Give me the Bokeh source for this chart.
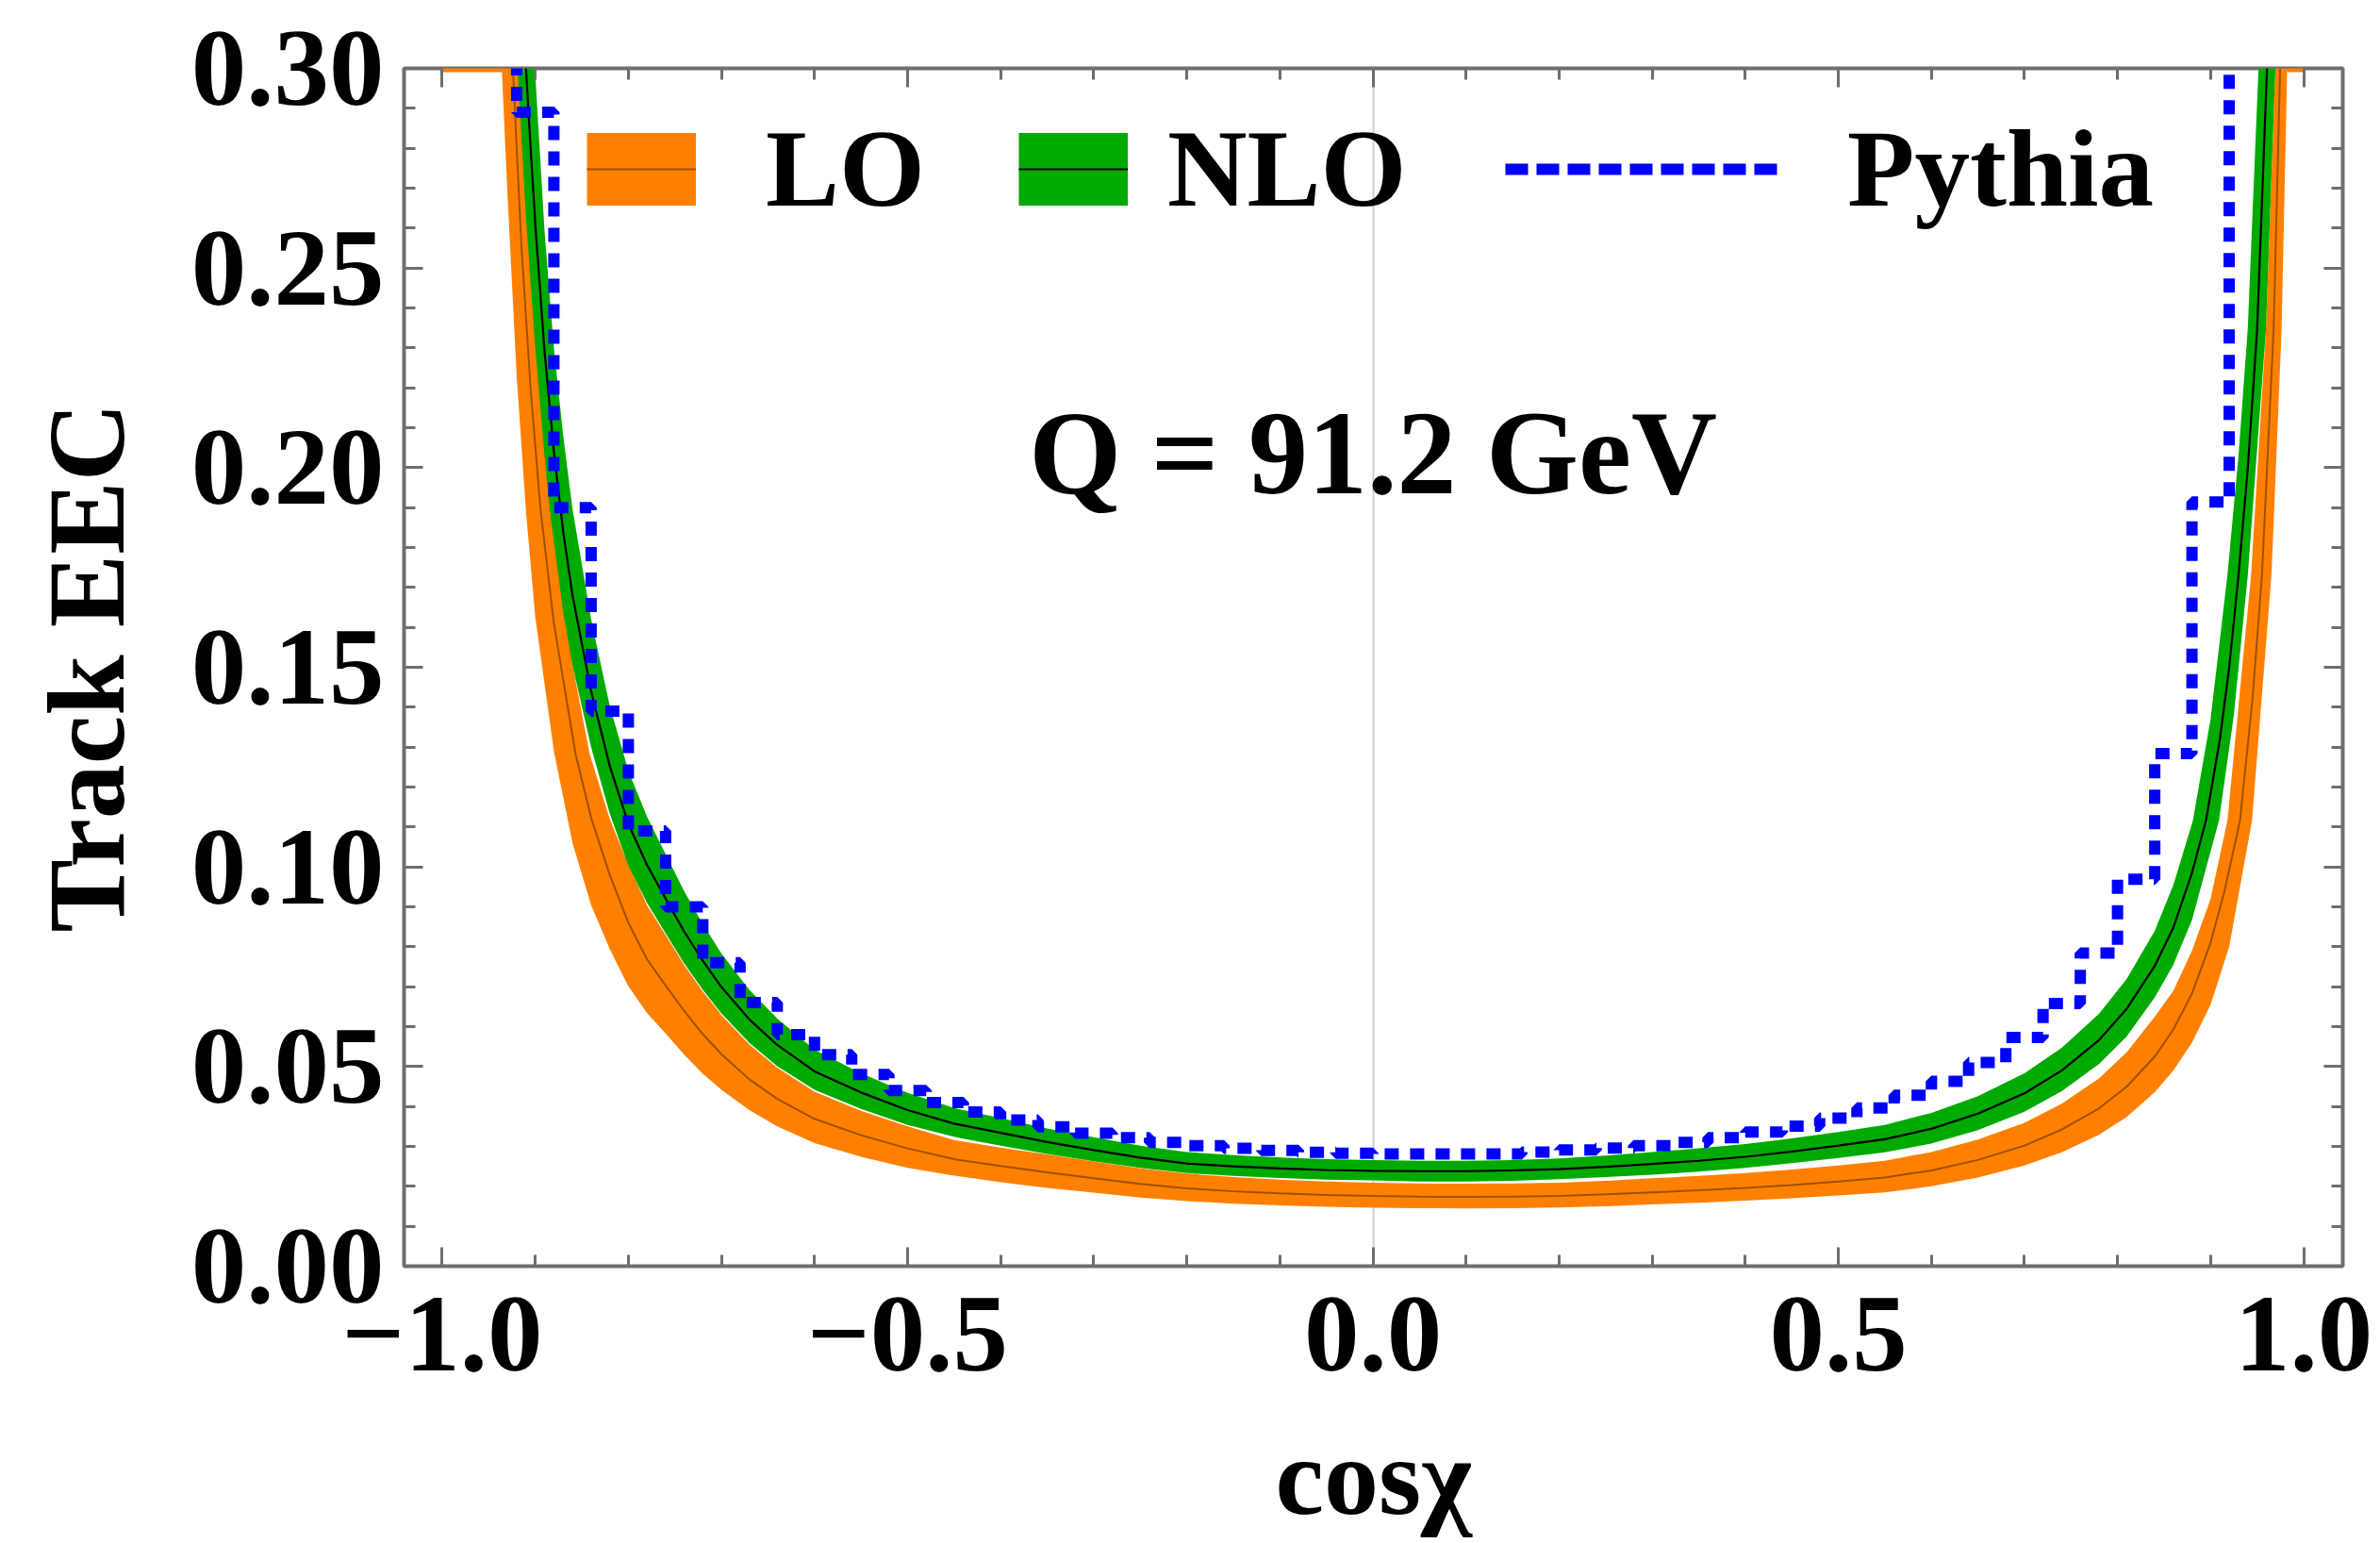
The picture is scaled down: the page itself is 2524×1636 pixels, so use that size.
from bokeh.plotting import figure
from bokeh.models import (Range1d, FixedTicker, LinearAxis, PrintfTickFormatter,
                          CustomJSTickFormatter, Legend, LegendItem, Label)
from bokeh.embed import file_html
from bokeh.resources import INLINE
from bokeh.core.properties import value

NAN = float("nan")

# ---------------- data ----------------
# LO band: lower edge, upper edge, central line
lo_lo_x = [-0.936, -0.930, -0.920, -0.910, -0.900, -0.880, -0.860, -0.840, -0.820, -0.800,
           -0.780, -0.760, -0.740, -0.720, -0.700, -0.670, -0.640, -0.600, -0.550, -0.500,
           -0.450, -0.400, -0.350, -0.300, -0.250, -0.200, -0.150, -0.100, -0.050, 0.000,
           0.050, 0.100, 0.150, 0.200, 0.250, 0.300, 0.350, 0.400, 0.450, 0.500,
           0.550, 0.600, 0.650, 0.700, 0.740, 0.780, 0.810, 0.840, 0.860, 0.880,
           0.900, 0.920, 0.9445, 0.9654, 0.9763, 0.9823]
lo_lo_y = [0.300, 0.269, 0.223, 0.189, 0.1626, 0.129, 0.106, 0.0904, 0.0794, 0.0701,
           0.0634, 0.0583, 0.0530, 0.0482, 0.0442, 0.0391, 0.0350, 0.0308, 0.0274, 0.0246,
           0.0227, 0.0210, 0.0196, 0.0184, 0.0172, 0.0163, 0.01566, 0.01524, 0.01489, 0.01467,
           0.01453, 0.01449, 0.01453, 0.0147, 0.0150, 0.01545, 0.0159, 0.0164, 0.0170, 0.0177,
           0.0185, 0.0200, 0.0222, 0.0252, 0.0285, 0.0329, 0.0374, 0.0436, 0.0490, 0.0560,
           0.0655, 0.0800, 0.1116, 0.1731, 0.2346, 0.300]

lo_hi_x = [-0.9161, -0.910, -0.900, -0.890, -0.880, -0.860, -0.8415, -0.820, -0.800,
           -0.780, -0.760, -0.740, -0.720, -0.700, -0.670, -0.640, -0.600, -0.550, -0.500,
           -0.450, -0.400, -0.350, -0.300, -0.250, -0.200, -0.150, -0.100, -0.050, 0.000,
           0.050, 0.100, 0.150, 0.200, 0.250, 0.300, 0.350, 0.400, 0.450, 0.500,
           0.550, 0.600, 0.650, 0.700, 0.740, 0.780, 0.810, 0.840, 0.860, 0.880,
           0.900, 0.9181, 0.9435, 0.9595, 0.9696]
lo_hi_y = [0.300, 0.272, 0.2337, 0.207, 0.185, 0.1506, 0.1282, 0.1120, 0.1006,
           0.0904, 0.0830, 0.0754, 0.0688, 0.0629, 0.0555, 0.0497, 0.0437, 0.0389, 0.0350,
           0.0316, 0.0297, 0.0280, 0.0262, 0.0245, 0.0232, 0.0223, 0.0217, 0.0212, 0.0209,
           0.0207, 0.02065, 0.0207, 0.0209, 0.0214, 0.0220, 0.0226, 0.0233, 0.0242, 0.0252,
           0.0264, 0.0286, 0.0317, 0.0359, 0.0407, 0.0470, 0.0536, 0.0625, 0.0690, 0.0790,
           0.0920, 0.1116, 0.1731, 0.2346, 0.300]

lo_mid_x = [-0.9241, -0.915, -0.905, -0.8944, -0.880, -0.8567, -0.840, -0.820, -0.800,
            -0.780, -0.760, -0.740, -0.720, -0.700, -0.670, -0.640, -0.600, -0.550, -0.500,
            -0.450, -0.400, -0.350, -0.300, -0.250, -0.200, -0.150, -0.100, -0.050, 0.000,
            0.050, 0.100, 0.150, 0.200, 0.250, 0.300, 0.350, 0.400, 0.450, 0.500,
            0.550, 0.600, 0.650, 0.700, 0.740, 0.780, 0.810, 0.840, 0.860, 0.880,
            0.900, 0.915, 0.9316, 0.945, 0.9552, 0.9677, 0.9747]
lo_mid_y = [0.300, 0.256, 0.2197, 0.1896, 0.161, 0.1282, 0.1123, 0.0980, 0.0860,
            0.0769, 0.0703, 0.0639, 0.0581, 0.0531, 0.0468, 0.0419, 0.0369, 0.0328, 0.0295,
            0.0268, 0.0251, 0.0235, 0.0220, 0.0206, 0.0195, 0.01875, 0.01825, 0.01783, 0.01757,
            0.0174, 0.01735, 0.0174, 0.0176, 0.0180, 0.0185, 0.0190, 0.0196, 0.0203, 0.0212,
            0.0222, 0.0240, 0.0266, 0.0302, 0.0342, 0.0395, 0.0450, 0.0525, 0.0593, 0.0683,
            0.0810, 0.0940, 0.1116, 0.1420, 0.1731, 0.2346, 0.300]

# ends of the LO filling that are clipped along the top of the frame
lo_clip_xs = [[-1.0, -0.936], [0.9823, 1.0]]
lo_clip_ys = [[0.300, 0.300], [0.300, 0.300]]

# NLO band: lower edge, upper edge, central line
nlo_lo_x = [-0.9191, -0.910, -0.900, -0.890, -0.8847, -0.870, -0.860, -0.840, -0.820, -0.800,
            -0.780, -0.760, -0.740, -0.720, -0.700, -0.670, -0.640, -0.600, -0.550, -0.500,
            -0.450, -0.400, -0.350, -0.300, -0.250, -0.200, -0.150, -0.100, -0.050, 0.000,
            0.050, 0.100, 0.150, 0.200, 0.250, 0.300, 0.350, 0.400, 0.450, 0.500,
            0.550, 0.600, 0.650, 0.700, 0.740, 0.780, 0.810, 0.840, 0.860, 0.880,
            0.909, 0.925, 0.940, 0.9595, 0.9696]
nlo_lo_y = [0.300, 0.2625, 0.2297, 0.2027, 0.1896, 0.1638, 0.1504, 0.1300, 0.1134, 0.1003,
            0.0910, 0.0834, 0.0758, 0.0692, 0.0633, 0.0559, 0.0501, 0.0442, 0.0394, 0.0354,
            0.0324, 0.0302, 0.0281, 0.0263, 0.0246, 0.0233, 0.0226, 0.0221, 0.0217, 0.0215,
            0.0212, 0.0212, 0.0214, 0.0218, 0.0223, 0.0229, 0.0237, 0.0246, 0.0258, 0.0271,
            0.0285, 0.0307, 0.0341, 0.0387, 0.0438, 0.0506, 0.0576, 0.0673, 0.0755, 0.0867,
            0.1116, 0.1380, 0.1731, 0.2346, 0.300]

nlo_hi_x = [-0.9004, -0.890, -0.880, -0.870, -0.860, -0.840, -0.820, -0.800,
            -0.780, -0.760, -0.740, -0.720, -0.700, -0.670, -0.640, -0.600, -0.550, -0.500,
            -0.450, -0.400, -0.350, -0.300, -0.250, -0.200, -0.150, -0.100, -0.050, 0.000,
            0.050, 0.100, 0.150, 0.200, 0.250, 0.300, 0.350, 0.400, 0.450, 0.500,
            0.550, 0.600, 0.650, 0.700, 0.740, 0.780, 0.810, 0.840, 0.860, 0.881,
            0.900, 0.9181, 0.930, 0.9399, 0.9515]
nlo_hi_y = [0.300, 0.259, 0.230, 0.208, 0.1896, 0.162, 0.1403, 0.1241,
            0.1126, 0.1032, 0.0939, 0.0857, 0.0783, 0.0692, 0.0620, 0.0542, 0.0483, 0.0434,
            0.0396, 0.0371, 0.0345, 0.0323, 0.0302, 0.0286, 0.0278, 0.0272, 0.0268, 0.0266,
            0.0264, 0.0264, 0.0266, 0.0270, 0.0277, 0.0286, 0.0295, 0.0306, 0.0320, 0.0336,
            0.0354, 0.0384, 0.0426, 0.0483, 0.0547, 0.0632, 0.0720, 0.0840, 0.0955, 0.1116,
            0.1370, 0.1731, 0.2030, 0.2346, 0.300]

nlo_mid_x = [-0.910, -0.905, -0.900, -0.890, -0.880, -0.870, -0.860, -0.840, -0.820, -0.800,
             -0.780, -0.760, -0.740, -0.720, -0.700, -0.670, -0.640, -0.600, -0.550, -0.500,
             -0.450, -0.400, -0.350, -0.300, -0.250, -0.200, -0.150, -0.100, -0.050, 0.000,
             0.050, 0.100, 0.150, 0.200, 0.250, 0.300, 0.350, 0.400, 0.450, 0.500,
             0.550, 0.600, 0.650, 0.700, 0.740, 0.780, 0.810, 0.840, 0.860, 0.880,
             0.895, 0.910, 0.920, 0.930, 0.940, 0.950, 0.9606]
nlo_mid_y = [0.300, 0.280, 0.261, 0.229, 0.204, 0.184, 0.168, 0.144, 0.1253, 0.1108,
             0.1005, 0.0921, 0.0838, 0.0765, 0.0699, 0.0618, 0.0554, 0.0488, 0.0435, 0.0391,
             0.0357, 0.0334, 0.0311, 0.0291, 0.0272, 0.0257, 0.0250, 0.0245, 0.0241, 0.0239,
             0.0238, 0.0238, 0.0240, 0.0243, 0.0249, 0.0256, 0.0264, 0.0274, 0.0287, 0.0302,
             0.0318, 0.0344, 0.0382, 0.0433, 0.0490, 0.0566, 0.0645, 0.0752, 0.0848, 0.0985,
             0.1116, 0.1320, 0.1500, 0.1731, 0.2000, 0.2346, 0.300]

# Pythia histogram: bin edges and bin contents (first/last bins run off the top)
pythia_edges = [-0.96, -0.92, -0.88, -0.84, -0.80, -0.76, -0.72, -0.68, -0.64, -0.60,
                -0.56, -0.52, -0.48, -0.44, -0.40, -0.36, -0.32, -0.28, -0.24, -0.20,
                -0.16, -0.12, -0.08, -0.04, 0.00, 0.04, 0.08, 0.12, 0.16, 0.20,
                0.24, 0.28, 0.32, 0.36, 0.40, 0.44, 0.48, 0.52, 0.56, 0.60,
                0.64, 0.68, 0.72, 0.76, 0.80, 0.84, 0.88, 0.92, 0.96]
pythia_vals = [0.42, 0.289, 0.190, 0.139, 0.109, 0.090, 0.076, 0.066, 0.058, 0.053,
               0.048, 0.044, 0.041, 0.0386, 0.0366, 0.0349, 0.0333, 0.0322, 0.0310, 0.0302,
               0.0295, 0.0290, 0.0285, 0.0283, 0.0281, 0.0281, 0.0281, 0.0281, 0.0286, 0.0291,
               0.0296, 0.0302, 0.0310, 0.0322, 0.0336, 0.0351, 0.0371, 0.0396, 0.0428, 0.0463,
               0.0510, 0.0573, 0.0658, 0.0784, 0.0969, 0.1284, 0.1914, 0.42]

x_major = [-1.0, -0.5, 0.0, 0.5, 1.0]
x_minor = [-1.0, -0.9, -0.8, -0.7, -0.6, -0.5, -0.4, -0.3, -0.2, -0.1, 0.0,
           0.1, 0.2, 0.3, 0.4, 0.5, 0.6, 0.7, 0.8, 0.9, 1.0]
y_major = [0.0, 0.05, 0.10, 0.15, 0.20, 0.25, 0.30]
y_minor = [0.0, 0.01, 0.02, 0.03, 0.04, 0.05, 0.06, 0.07, 0.08, 0.09, 0.10,
           0.11, 0.12, 0.13, 0.14, 0.15, 0.16, 0.17, 0.18, 0.19, 0.20,
           0.21, 0.22, 0.23, 0.24, 0.25, 0.26, 0.27, 0.28, 0.29, 0.30]

# ---------------- style ----------------
ORANGE = "#FF8000"
ORANGE_LINE = "#A05000"
GREEN = "#00AA00"
BLUE = "#0000FF"
FRAME = "#6E6E6E"
FONT = "Liberation Serif"

W, H = 2520, 1632
p = figure(width=W, height=H,
           x_range=Range1d(-1.041, 1.042), y_range=Range1d(0.0, 0.3),
           output_backend="svg", toolbar_location=None,
           min_border_left=428, min_border_right=W - 2484,
           min_border_top=72, min_border_bottom=H - 1342,
           x_axis_label="cosχ", y_axis_label="Track EEC")
p.background_fill_color = "white"
p.border_fill_color = "white"
p.outline_line_color = FRAME
p.outline_line_width = 4

xt = FixedTicker(ticks=x_major, minor_ticks=x_minor)
yt = FixedTicker(ticks=y_major, minor_ticks=y_minor)

p.add_layout(LinearAxis(ticker=xt), "above")
p.add_layout(LinearAxis(ticker=yt), "right")

def style_axis(ax):
    ax.axis_line_color = None
    ax.major_tick_in = 20
    ax.major_tick_out = 0
    ax.minor_tick_in = 12
    ax.minor_tick_out = 0
    ax.major_tick_line_color = FRAME
    ax.minor_tick_line_color = FRAME
    ax.major_tick_line_width = 3
    ax.minor_tick_line_width = 3
    ax.major_label_text_font = FONT
    ax.major_label_text_font_style = "bold"
    ax.major_label_text_color = "black"
    ax.axis_label_text_font = FONT
    ax.axis_label_text_font_style = "bold"
    ax.axis_label_text_font_size = "116px"
    ax.axis_label_text_color = "black"

for ax in p.xaxis + p.yaxis:
    style_axis(ax)

bottom, top = p.below[0], p.above[0]
left, right = p.left[0], p.right[0]
bottom.ticker = xt
left.ticker = yt
bottom.formatter = CustomJSTickFormatter(
    code="return (tick < -1e-9 ? '\u2212' : '') + Math.abs(tick).toFixed(1);")
left.formatter = PrintfTickFormatter(format="%.2f")
for ax in (bottom, left):
    ax.major_label_text_font_size = "117px"
bottom.major_label_standoff = 33
bottom.axis_label_standoff = 46
left.major_label_standoff = 21
left.axis_label_standoff = 44
for ax in (top, right):
    ax.formatter = CustomJSTickFormatter(code="return '';")
    ax.major_label_text_font_size = "2px"
    ax.major_label_standoff = 0

p.xgrid.ticker = FixedTicker(ticks=[0.0])
p.xgrid.grid_line_color = "#CFCFCF"
p.xgrid.grid_line_width = 2
p.ygrid.grid_line_color = None

# ---------------- glyphs ----------------
p.patch(lo_lo_x + lo_hi_x[::-1], lo_lo_y + lo_hi_y[::-1],
        fill_color=ORANGE, line_color=None)
p.multi_line(lo_clip_xs, lo_clip_ys, line_color=ORANGE, line_width=8)
lo_mid_r = p.line(lo_mid_x, lo_mid_y, line_color=ORANGE_LINE, line_width=2)

p.patch(nlo_lo_x + nlo_hi_x[::-1], nlo_lo_y + nlo_hi_y[::-1],
        fill_color=GREEN, line_color=None)
nlo_mid_r = p.line(nlo_mid_x, nlo_mid_y, line_color="black", line_width=2.2)

p.step(pythia_edges, pythia_vals + [pythia_vals[-1]], mode="after",
       line_color=BLUE, line_width=12, line_dash="15 12")

# legend keys (a single missing point: only drawn in the legend)
lo_key = p.line(x=[NAN], y=[NAN], line_color=ORANGE, line_width=77, line_cap="butt")
nlo_key = p.line(x=[NAN], y=[NAN], line_color=GREEN, line_width=77, line_cap="butt")
py_key = p.line(x=[NAN], y=[NAN], line_color=BLUE, line_width=12, line_dash="24 9")

def make_legend(label, renderers, vx, gw, standoff):
    lg = Legend(items=[LegendItem(label=value(label), renderers=renderers)],
                location=(vx, 1093), orientation="horizontal",
                glyph_width=gw, glyph_height=140, label_height=140,
                label_standoff=standoff, padding=0, margin=0, spacing=0,
                border_line_color=None, background_fill_alpha=0,
                label_text_font=FONT, label_text_font_style="bold",
                label_text_font_size="117px", label_text_color="black")
    p.add_layout(lg, "center")

make_legend("LO", [lo_key, lo_mid_r], 194, 116, 74)
make_legend("NLO", [nlo_key, nlo_mid_r], 652, 116, 42)
make_legend("Pythia", [py_key], 1168, 296, 67)

p.add_layout(Label(x=0.0, y=0.2036, text="Q = 91.2 GeV", text_font=FONT,
                   text_font_style="bold", text_font_size="126px",
                   text_align="center", text_baseline="middle", text_color="black"))

open("out.html", "w").write(file_html(p, INLINE))
